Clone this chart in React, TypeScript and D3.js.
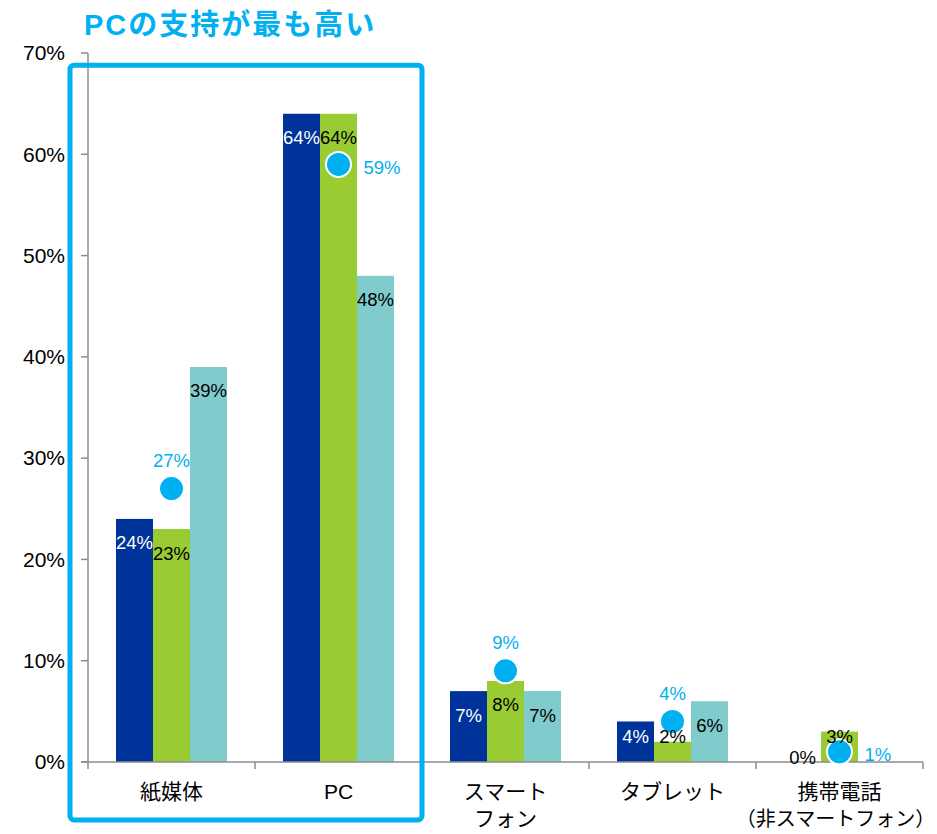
import React from "react"
import * as d3 from "d3"

const categories: string[][] = [
  ["紙媒体"],
  ["PC"],
  ["スマート", "フォン"],
  ["タブレット"],
  ["携帯電話", "（非スマートフォン）"],
]
const series1 = [24, 64, 7, 4, 0]
const series2 = [23, 64, 8, 2, 3]
const series3: (number | null)[] = [39, 48, 7, 6, null]
const dotValues = [27, 59, 9, 4, 1]
const dotLabelSide = ["top", "right", "top", "top", "right"]
const yTicks = [0, 10, 20, 30, 40, 50, 60, 70]
const title = "PCの支持が最も高い"

const barColors = ["#003399", "#99CC33", "#80CCCC"]
const labelColors = ["#ffffff", "#000000", "#000000"]
const dotColor = "#00B0F0"
const axisColor = "#8c8c8c"
const latin = "'Liberation Sans', Arial, sans-serif"
const cjk = "'Liberation Sans', 'Noto Sans CJK JP', sans-serif"

if (typeof document !== "undefined") document.body.style.margin = "0"

const W = 937
const H = 834

export default function App() {
  const x = d3
    .scaleBand<number>()
    .domain(categories.map((_, i) => i))
    .range([88, 923])
  const inner = d3
    .scaleBand<number>()
    .domain([0, 1, 2])
    .range([28, x.bandwidth() - 28])
  const y = d3.scaleLinear().domain([0, 70]).range([762, 53])
  const base = y(0)

  const allSeries = [series1, series2, series3]

  const boxLeft = x(0)! - 18
  const boxRight = x(1)! + x.bandwidth()
  const boxTop = y(68.8)
  const boxBottom = 820

  const labelY = (v: number) => {
    if (v === 0) return base - 4
    return Math.min(y(v) + 24, base - 25)
  }

  return (
    <svg width={W} height={H} style={{ display: "block" }}>
      <rect width={W} height={H} fill="#fff" />
      <text
        x={84}
        y={35}
        fill={dotColor}
        fontFamily={cjk}
        fontWeight="bold"
        fontSize={29}
        letterSpacing={2}
      >
        {title}
      </text>

      {/* y axis */}
      <line x1={88} x2={88} y1={y(70)} y2={base} stroke={axisColor} strokeWidth={1.5} />
      {yTicks.map((t) => (
        <g key={t}>
          <line x1={81} x2={88} y1={y(t)} y2={y(t)} stroke={axisColor} strokeWidth={1.5} />
          <text
            x={65}
            y={y(t)}
            dy="0.35em"
            textAnchor="end"
            fontFamily={latin}
            fontSize={21}
            fill="#000"
          >
            {t}%
          </text>
        </g>
      ))}

      {/* bars */}
      {allSeries.map((s, si) =>
        s.map((v, ci) =>
          v == null ? null : (
            <rect
              key={`b${si}-${ci}`}
              x={x(ci)! + inner(si)!}
              y={y(v)}
              width={inner.bandwidth()}
              height={base - y(v)}
              fill={barColors[si]}
            />
          )
        )
      )}

      {/* x axis */}
      <line x1={81} x2={923} y1={base} y2={base} stroke={axisColor} strokeWidth={1.5} />
      {[...categories.map((_, i) => x(i)!), 923].map((px, i) => (
        <line key={i} x1={px} x2={px} y1={base} y2={base + 7} stroke={axisColor} strokeWidth={1.5} />
      ))}
      {categories.map((lines, ci) =>
        lines.map((l, li) => {
          const wide = l.length > 8
          return (
            <text
              key={`c${ci}-${li}`}
              x={x(ci)! + x.bandwidth() / 2 - (wide ? 4 : 0)}
              y={792 + li * 27}
              dy="0.35em"
              textAnchor="middle"
              fontFamily={cjk}
              fontSize={wide ? 20 : 21}
              fill="#000"
            >
              {l}
            </text>
          )
        })
      )}

      {/* dots */}
      {dotValues.map((v, ci) => (
        <circle
          key={`d${ci}`}
          cx={x(ci)! + inner(1)! + inner.bandwidth() / 2}
          cy={y(v)}
          r={12.5}
          fill={dotColor}
          stroke="#fff"
          strokeWidth={2}
        />
      ))}

      {/* bar labels */}
      {allSeries.map((s, si) =>
        s.map((v, ci) =>
          v == null ? null : (
            <text
              key={`l${si}-${ci}`}
              x={x(ci)! + inner(si)! + inner.bandwidth() / 2}
              y={labelY(v)}
              dy="0.35em"
              textAnchor="middle"
              fontFamily={latin}
              fontSize={18.5}
              fill={v === 0 ? "#000" : labelColors[si]}
            >
              {v}%
            </text>
          )
        )
      )}

      {/* dot labels */}
      {dotValues.map((v, ci) => {
        const cx = x(ci)! + inner(1)! + inner.bandwidth() / 2
        const right = dotLabelSide[ci] === "right"
        return (
          <text
            key={`dl${ci}`}
            x={right ? cx + 25 : cx}
            y={right ? y(v) + 3 : y(v) - 28}
            dy="0.35em"
            textAnchor={right ? "start" : "middle"}
            fontFamily={latin}
            fontSize={18.5}
            fill={dotColor}
          >
            {v}%
          </text>
        )
      })}

      {/* highlight box */}
      <rect
        x={boxLeft}
        y={boxTop}
        width={boxRight - boxLeft}
        height={boxBottom - boxTop}
        rx={4}
        fill="none"
        stroke={dotColor}
        strokeWidth={5}
      />
    </svg>
  )
}
